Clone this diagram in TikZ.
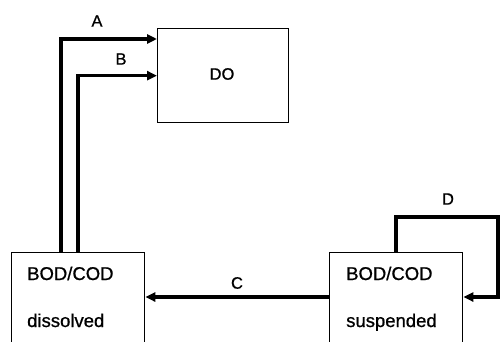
\documentclass[tikz,border=0pt]{standalone}
\usepackage{fontspec}
\setmainfont{Liberation Sans}
\newfontface\heavyface{Liberation Sans}[FakeBold=0.8]
\usetikzlibrary{arrows.meta,calc}
\begin{document}
\begin{tikzpicture}[x=1pt,y=-1pt,
  box/.style={draw,line width=1.3pt,minimum width=133pt,minimum height=98pt,inner sep=0pt,anchor=north west},
  dobox/.style={draw,line width=1.3pt,minimum width=131pt,minimum height=94pt,inner sep=0pt,anchor=north west},
  arr/.style={line width=3.2pt,-{Triangle[length=10pt,width=9pt]}},
  txt/.style={font=\heavyface\fontsize{18.5}{22}\selectfont,inner sep=0pt,anchor=base west},
  lbl/.style={font=\heavyface\fontsize{16.5}{19}\selectfont,inner sep=0pt}]
\useasboundingbox (0,0) rectangle (500,342);
\clip (0,0) rectangle (500,342);
\node[dobox] (do) at (157,28) {};
\node[lbl] (dotxt) at (222,74) {DO};
\node[box] (dis) at (11,252) {};
\node[box] (sus) at (329,252) {};
\node[txt] (t1) at (27,280) {BOD/COD};
\node[txt] (t2) at (27,327) {dissolved};
\node[txt] (t3) at (346,280) {BOD/COD};
\node[txt] (t4) at (346,327) {suspended};
\coordinate (dR1) at (498,217);
\coordinate (dR2) at (498,297);
\draw[arr] ([xshift=50pt]dis.north west) |- ([yshift=-11pt]do.north west);
\draw[arr] ([xshift=67pt]dis.north west) |- (do.west);
\draw[arr] (sus.west |- dR2) -- (dis.east |- dR2);
\draw[arr] ([xshift=67pt]sus.north west) |- (dR1) -- (dR2) -- (sus.east |- dR2);
\node[lbl] (la) at (97,21) {A};
\node[lbl] (lb) at (121,59) {B};
\node[lbl] (lc) at (237,283) {C};
\node[lbl] (ld) at (448,199) {D};
\end{tikzpicture}
\end{document}
